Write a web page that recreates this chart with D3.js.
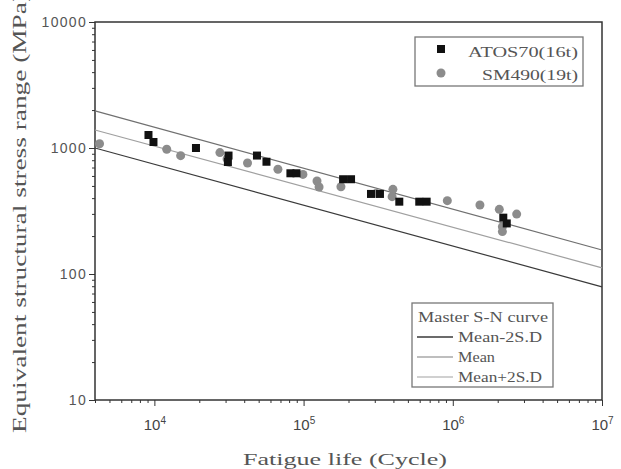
<!DOCTYPE html>
<html>
<head>
<meta charset="utf-8">
<script src="https://cdn.jsdelivr.net/npm/d3@7"></script>
<style>
  body { margin: 0; background: #fff; }
  svg { display: block; font-family: "Liberation Serif", "DejaVu Serif", serif; }
</style>
</head>
<body>
<svg width="621" height="469"></svg>
<script>
// test data
var atosN = [9130, 9860, 19000, 31400, 31100, 48700, 56400, 81600, 89600, 184000, 208000,
             283000, 325000, 438000, 596000, 668000, 2180000, 2300000];
var atosS = [1268, 1116, 1000, 871, 774, 871, 778, 630, 630, 565, 565,
             432, 432, 375, 375, 375, 280, 252];

var smN = [4290, 12100, 15000, 27500, 30700, 42100, 67300, 99000, 123000, 127000, 178000,
           306000, 397000, 392000, 919000, 1520000, 2050000, 2680000, 2150000, 2150000];
var smS = [1081, 977, 869, 919, 819, 760, 678, 617, 547, 490, 493,
           436, 470, 411, 382, 353, 326, 299, 237, 217];

// master S-N curve end points
var curveN = [4000, 10000000];
var meanMinus2SD = [1000, 79];
var meanLine = [1390, 112];
var meanPlus2SD = [1970, 155];

var xTicks = [1e4, 1e5, 1e6, 1e7];
var yTicks = [10, 100, 1000, 10000];

var svg = d3.select("svg"),
    margin = {top: 22, right: 19, bottom: 69, left: 95},
    width = +svg.attr("width") - margin.left - margin.right,
    height = +svg.attr("height") - margin.top - margin.bottom,
    g = svg.append("g").attr("transform", "translate(" + margin.left + "," + margin.top + ")");

var x = d3.scaleLog().domain([4000, 1e7]).range([0, width]);
var y = d3.scaleLog().domain([10, 10000]).range([height, 0]);

// minor ticks
var xMinor = [], yMinor = [];
[1e3, 1e4, 1e5, 1e6].forEach(function(d) {
  for (var k = 2; k <= 9; k++) if (d * k >= 4000 && d * k < 1e7) xMinor.push(d * k);
});
[10, 100, 1000].forEach(function(d) {
  for (var k = 2; k <= 9; k++) yMinor.push(d * k);
});

g.append("g")
    .attr("transform", "translate(0," + height + ")")
    .call(d3.axisBottom(x).tickValues(xMinor).tickSize(3).tickFormat(""))
    .call(function(a) { a.select(".domain").remove(); });

var xAxis = g.append("g")
    .attr("transform", "translate(0," + height + ")")
    .call(d3.axisBottom(x).tickValues(xTicks).tickSize(6).tickPadding(13));
xAxis.select(".domain").remove();
xAxis.selectAll("text")
    .attr("font-size", 15)
    .attr("fill", "#444")
    .each(function(d) {
      var t = d3.select(this).text("");
      t.append("tspan").text("10");
      t.append("tspan").attr("dy", "-0.55em").attr("font-size", 10).text(Math.round(Math.log10(d)));
    });

g.append("g")
    .call(d3.axisLeft(y).tickValues(yMinor).tickSize(3).tickFormat(""))
    .call(function(a) { a.select(".domain").remove(); });

var yAxis = g.append("g")
    .call(d3.axisLeft(y).tickValues(yTicks).tickSize(6).tickPadding(2).tickFormat(d3.format("d")));
yAxis.select(".domain").remove();
yAxis.selectAll("text")
    .attr("font-size", 14)
    .attr("letter-spacing", 1.3)
    .attr("fill", "#555");

g.selectAll(".tick line").attr("stroke", "#333");

// frame
g.append("rect")
    .attr("width", width)
    .attr("height", height)
    .attr("fill", "none")
    .attr("stroke", "#333")
    .attr("stroke-width", 1.5);

// S-N lines
var curves = [
  {name: "Mean-2S.D", vals: meanMinus2SD, color: "#3a3a3a", len: 84},
  {name: "Mean", vals: meanLine, color: "#a0a0a0", len: 37},
  {name: "Mean+2S.D", vals: meanPlus2SD, color: "#707070", len: 84}
];

var line = d3.line()
    .x(function(d) { return x(d[0]); })
    .y(function(d) { return y(d[1]); });

g.selectAll(".sn")
    .data(curves)
    .enter().append("path")
      .attr("class", "sn")
      .attr("fill", "none")
      .attr("stroke", function(d) { return d.color; })
      .attr("stroke-width", 1.2)
      .attr("d", function(d) { return line(curveN.map(function(n, i) { return [n, d.vals[i]]; })); });

// points
g.selectAll(".sm")
    .data(smN.map(function(n, i) { return [n, smS[i]]; }))
    .enter().append("circle")
      .attr("class", "sm")
      .attr("cx", function(d) { return x(d[0]); })
      .attr("cy", function(d) { return y(d[1]); })
      .attr("r", 4.5)
      .attr("fill", "#8c8c8c");

g.selectAll(".atos")
    .data(atosN.map(function(n, i) { return [n, atosS[i]]; }))
    .enter().append("rect")
      .attr("class", "atos")
      .attr("x", function(d) { return x(d[0]) - 4; })
      .attr("y", function(d) { return y(d[1]) - 4; })
      .attr("width", 8)
      .attr("height", 8)
      .attr("fill", "#111");

// axis titles
svg.append("text")
    .attr("x", 345)
    .attr("y", 465)
    .attr("text-anchor", "middle")
    .attr("font-size", 17)
    .attr("fill", "#555")
    .attr("textLength", 204)
    .attr("lengthAdjust", "spacingAndGlyphs")
    .text("Fatigue life (Cycle)");

svg.append("text")
    .attr("transform", "translate(26,433) rotate(-90)")
    .attr("font-size", 18)
    .attr("fill", "#555")
    .attr("textLength", 440)
    .attr("lengthAdjust", "spacingAndGlyphs")
    .text("Equivalent structural stress range (MPa)");

// legend for test data
var leg1 = svg.append("g");
leg1.append("rect")
    .attr("x", 415).attr("y", 37).attr("width", 168).attr("height", 49)
    .attr("fill", "#fff").attr("stroke", "#777").attr("stroke-width", 1.3);
leg1.append("rect").attr("x", 437).attr("y", 45).attr("width", 8).attr("height", 8).attr("fill", "#111");
leg1.append("circle").attr("cx", 441).attr("cy", 73).attr("r", 4.5).attr("fill", "#8c8c8c");
leg1.append("text").attr("x", 578).attr("y", 57).attr("text-anchor", "end")
    .attr("font-size", 15).attr("fill", "#555")
    .attr("textLength", 110).attr("lengthAdjust", "spacingAndGlyphs").text("ATOS70(16t)");
leg1.append("text").attr("x", 578).attr("y", 80).attr("text-anchor", "end")
    .attr("font-size", 15).attr("fill", "#555")
    .attr("textLength", 96).attr("lengthAdjust", "spacingAndGlyphs").text("SM490(19t)");

// legend for S-N curves
var leg2 = svg.append("g");
leg2.append("rect")
    .attr("x", 412).attr("y", 303).attr("width", 141).attr("height", 84)
    .attr("fill", "#fff").attr("stroke", "#777").attr("stroke-width", 1.3);
leg2.append("text").attr("x", 418).attr("y", 322)
    .attr("font-size", 14).attr("fill", "#555")
    .attr("textLength", 130).attr("lengthAdjust", "spacingAndGlyphs").text("Master S-N curve");

var rows = leg2.selectAll(".row")
    .data(curves)
    .enter().append("g")
      .attr("class", "row")
      .attr("transform", function(d, i) { return "translate(0," + (337 + i * 20) + ")"; });

rows.append("line")
    .attr("x1", 417).attr("x2", 453)
    .attr("stroke", function(d, i) { return ["#3a3a3a", "#a8a8a8", "#c0c0c0"][i]; })
    .attr("stroke-width", 1.5);

rows.append("text")
    .attr("x", 458).attr("y", 5)
    .attr("font-size", 14).attr("fill", "#555")
    .attr("textLength", function(d) { return d.len; })
    .attr("lengthAdjust", "spacingAndGlyphs")
    .text(function(d) { return d.name; });
</script>
</body>
</html>
